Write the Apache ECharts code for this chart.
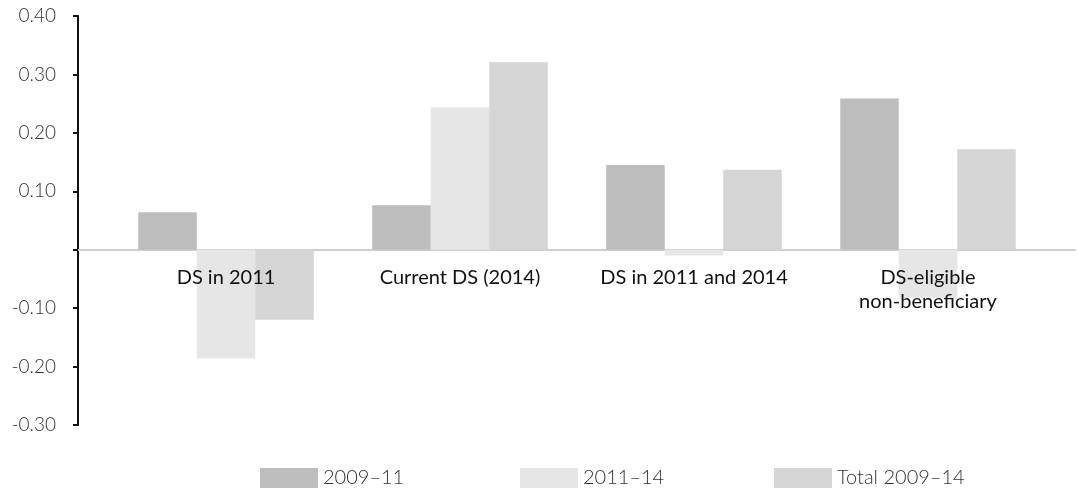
<!DOCTYPE html>
<html>
<head>
<meta charset="utf-8">
<script src="https://cdn.jsdelivr.net/npm/echarts@6/dist/echarts.min.js"></script>
<style>
  html, body { margin: 0; padding: 0; background: #fff; }
  #chart { width: 1078px; height: 488px; }
</style>
</head>
<body>
<div id="chart"></div>
<script>
  // categories and series
  const categories = ['DS in 2011', 'Current DS (2014)', 'DS in 2011 and 2014', 'DS-eligible\nnon-beneficiary'];
  const seriesNames = ['2009–11', '2011–14', 'Total 2009–14'];
  const values0911 = [0.064, 0.076, 0.145, 0.259];
  const values1114 = [-0.186, 0.244, -0.01, -0.082];
  const valuesTotal = [-0.12, 0.321, 0.137, 0.172];
  const yTicks = [-0.3, -0.2, -0.1, 0, 0.1, 0.2, 0.3, 0.4];

  const colors = ['#bdbdbd', '#e6e6e6', '#d5d5d5'];
  const legendLeft = [255, 515, 769];

  const chart = echarts.init(document.getElementById('chart'));

  const labelFont = { fontFamily: 'Lato', fontWeight: 300, color: '#333' };

  const option = {
    animation: false,
    grid: [
      { left: 109, right: 33, top: 16, bottom: 63 },
      // wider grid only used for the zero line
      { left: 78, right: 3, top: 16, bottom: 63 },
      // grid ending at the zero line, carries the category labels
      { left: 109, right: 33, top: 16, bottom: 238 },
    ],
    legend: seriesNames.map((name, i) => ({
      data: [name],
      left: legendLeft[i],
      top: 463,
      itemWidth: 58,
      itemHeight: 20,
      itemGap: 0,
      icon: 'rect',
      textStyle: { ...labelFont, fontSize: 20 },
    })),
    xAxis: [
      {
        type: 'category',
        gridIndex: 0,
        data: categories,
        axisLine: { show: false },
        axisTick: { show: false },
        axisLabel: { show: false },
        splitLine: { show: false },
      },
      {
        type: 'value',
        gridIndex: 1,
        min: 0,
        max: 1,
        axisLine: { show: true, onZero: true, lineStyle: { color: '#cfcfcf', width: 2 } },
        axisTick: { show: false },
        axisLabel: { show: false },
        splitLine: { show: false },
      },
      {
        type: 'category',
        gridIndex: 2,
        z: 10,
        data: categories,
        axisLine: { show: false },
        axisTick: { show: false },
        axisLabel: {
          color: '#111',
          fontFamily: 'Lato',
          fontSize: 20,
          lineHeight: 24,
          margin: 16,
          interval: 0,
        },
        splitLine: { show: false },
      },
    ],
    yAxis: [
      {
        type: 'value',
        gridIndex: 0,
        min: yTicks[0],
        max: yTicks[yTicks.length - 1],
        interval: 0.1,
        offset: 31,
        axisLine: { show: true, lineStyle: { color: '#111', width: 2 } },
        axisTick: { show: true, length: 5, lineStyle: { color: '#111', width: 2 } },
        axisLabel: {
          ...labelFont,
          fontSize: 19,
          margin: 22,
          formatter: (v) => (Math.abs(v) < 1e-9 ? '' : v.toFixed(2)),
        },
        splitLine: { show: false },
      },
      {
        type: 'value',
        gridIndex: 1,
        min: yTicks[0],
        max: yTicks[yTicks.length - 1],
        show: false,
      },
      {
        type: 'value',
        gridIndex: 2,
        show: false,
      },
    ],
    series: [values0911, values1114, valuesTotal].map((data, i) => ({
      name: seriesNames[i],
      type: 'bar',
      xAxisIndex: 0,
      yAxisIndex: 0,
      data: data,
      barGap: '0%',
      barCategoryGap: '25%',
      itemStyle: { color: colors[i] },
      z: 1,
    })),
  };

  chart.setOption(option);
</script>
</body>
</html>
